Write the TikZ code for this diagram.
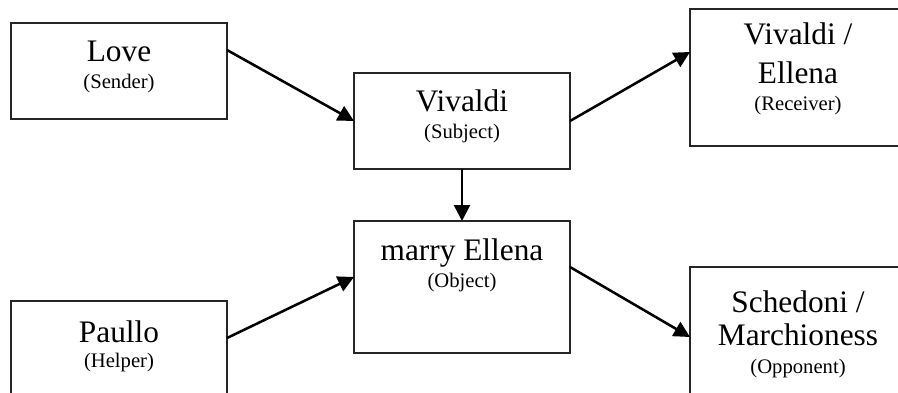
\documentclass[tikz,border=0pt]{standalone}
\usepackage{fontspec}
\setmainfont{Liberation Serif}
\usetikzlibrary{arrows.meta}
\tikzset{
  box/.style={draw=black!85, line width=0.8pt, rectangle, inner sep=0pt, outer sep=0pt, anchor=north west, minimum width=162pt},
  maintext/.style={anchor=base, inner sep=0pt, font=\fontsize{23.5}{27}\selectfont},
  subtext/.style={anchor=base, inner sep=0pt, font=\fontsize{15.5}{18}\selectfont},
  conn/.style={line width=1.9pt, -{Triangle[length=12pt,width=12pt]}, shorten >=0pt}
}
\begin{document}
\begin{tikzpicture}[x=0.75pt,y=-0.75pt]
\useasboundingbox (0,0) rectangle (898,392);
\fill[white] (0,0) rectangle (898,392);
\clip (0,0) rectangle (898,392);
% boxes
\node[box, minimum height=72pt] (love) at (11,23) {};
\node[box, minimum height=72pt] (vivaldi) at (354,73) {};
\node[box, minimum height=102.75pt] (receiver) at (690,9) {};
\node[box, minimum height=90pt] (paullo) at (11,301) {};
\node[box, minimum height=99pt] (object) at (354,221) {};
\node[box, minimum height=105pt] (opponent) at (690,267) {};
% texts
\node[maintext] (t1) at (119,62) {Love};
\node[subtext] (s1) at (119,89) {(Sender)};
\node[maintext] (t2) at (462,112) {Vivaldi};
\node[subtext] (s2) at (462,138) {(Subject)};
\node[maintext] (t3a) at (798,45) {Vivaldi /};
\node[maintext] (t3b) at (798,84) {Ellena};
\node[subtext] (s3) at (798,111) {(Receiver)};
\node[maintext] (t4) at (462,260) {marry Ellena};
\node[subtext] (s4) at (462,287) {(Object)};
\node[maintext] (t5) at (119,342) {Paullo};
\node[subtext] (s5) at (119,367) {(Helper)};
\node[maintext] (t6a) at (798,312) {Schedoni /};
\node[maintext] (t6b) at (798,345) {Marchioness};
\node[subtext] (s6) at (798,373) {(Opponent)};
% connectors
\draw[conn] ([yshift=-20.25pt]love.north east) -- (vivaldi.west);
\draw[conn] (vivaldi.east) -- ([yshift=-32.25pt]receiver.north west);
\draw[conn] (vivaldi.south) -- (object.north);
\draw[conn] ([yshift=-27.75pt]paullo.north east) -- ([yshift=-42pt]object.north west);
\draw[conn] ([yshift=-34.5pt]object.north east) -- ([yshift=-52.5pt]opponent.north west);
\end{tikzpicture}
\end{document}
